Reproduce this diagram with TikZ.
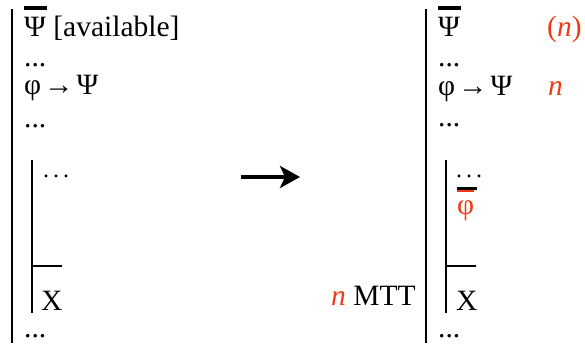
\documentclass[tikz,border=0pt]{standalone}
\usepackage{fontspec}
\setmainfont{Liberation Serif}
\usepackage{xcolor}
\usetikzlibrary{arrows.meta}
\definecolor{mttred}{RGB}{238,58,22}

\tikzset{
  line/.style={anchor=base west, inner sep=0pt, font=\fontsize{29.5}{34}\selectfont},
  tag/.style={line, text=mttred},
  smalldots/.style={anchor=base west, inner sep=0pt, font=\fontsize{24}{26}\selectfont},
  proofbar/.style={line width=2.6pt},
  overbar/.style={line width=3.4pt},
}

\begin{document}
\begin{tikzpicture}[x=1pt,y=-1pt]
    \useasboundingbox (0,0) rectangle (585,343);
    % left proof
    \draw[proofbar] (12,9) -- (12,343);
    \node[line] (psiL) at (24,36) {Ψ [available]};
    \draw[overbar] (24,8) -- (47,8);
    \node[line] (dotsLa) at (24,66) {...};
    \node[line] (implL) at (24,94) {φ\kern3pt→\kern3ptΨ};
    \node[line] (dotsLb) at (24,127) {...};
    \draw[proofbar] (32,160) -- (32,313);
    \node[smalldots] (subdotsL) at (43,177) {.\hspace{4pt}.\hspace{4pt}.};
    \draw[line width=1.8pt] (32,266) -- (62,266);
    \node[line] (xL) at (41,310) {X};
    \node[line] (dotsLc) at (24,337) {...};
    \node[line] (rule) at (331,305) {\textcolor{mttred}{\textit{n}} MTT};
    % arrow between the two proofs
    \coordinate (from) at (241,177);
    \coordinate (to) at (300,177);
    \draw[line width=3.6pt, -{Stealth[length=20pt,width=22pt,inset=5pt]}] (from) -- (to);
    % right proof
    \draw[proofbar] (426,9) -- (426,343);
    \node[line] (psiR) at (438,36) {Ψ};
    \draw[overbar] (438,8) -- (461,8);
    \node[tag] (tagA) at (547,36) {(\textit{n})};
    \node[line] (dotsRa) at (438,66) {...};
    \node[line] (implR) at (438,95) {φ\kern3pt→\kern3ptΨ};
    \node[tag] (tagB) at (548,95) {\textit{n}};
    \node[line] (dotsRb) at (438,126) {...};
    \draw[proofbar] (446,160) -- (446,313);
    \node[smalldots] (subdotsR) at (456,177) {.\hspace{4pt}.\hspace{4pt}.};
    \draw[line width=3pt] (457,188) -- (477,188);
    \draw[mttred, line width=2.4pt] (457,191) -- (474,191);
    \node[tag] (phiR) at (457,214) {φ};
    \draw[line width=1.8pt] (446,266) -- (476,266);
    \node[line] (xR) at (456,310) {X};
    \node[line] (dotsRc) at (438,337) {...};
\end{tikzpicture}
\end{document}
